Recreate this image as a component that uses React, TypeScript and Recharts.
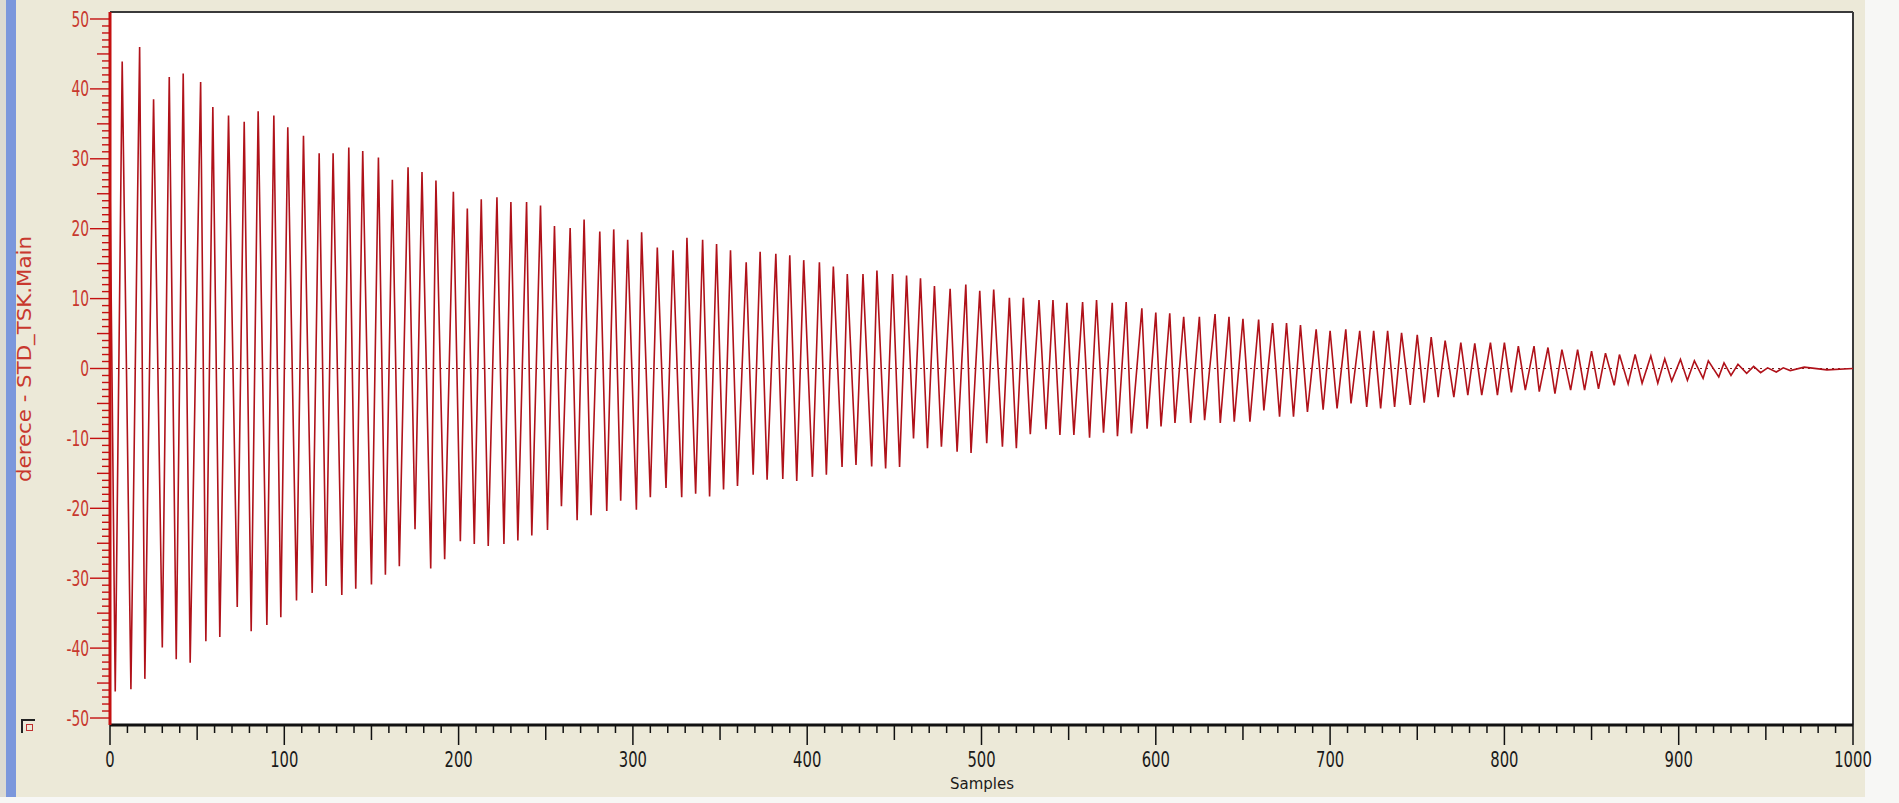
import React from 'react';
import { LineChart, Line, XAxis, YAxis, ReferenceLine, CartesianGrid } from 'recharts';

// signal extrema (sample index, degrees)
const startSample = 0;
const startValue = 27;

const peakSamples = [
  7, 17, 25, 34, 42, 52, 59, 68, 77, 85, 94, 102, 111, 120, 128, 137, 145, 154, 162, 171,
  179, 187, 197, 205, 213, 222, 230, 239, 247, 255, 264, 272, 281, 289, 297, 305, 314, 323, 331, 340,
  348, 356, 365, 373, 382, 390, 398, 407, 415, 423, 432, 440, 449, 457, 465, 473, 482, 491, 499, 507,
  516, 524, 533, 541, 549, 558, 566, 575, 583, 592, 600, 608, 616, 625, 634, 642, 650, 659, 667, 675,
  683, 692, 700, 709, 717, 725, 733, 741, 750, 758, 766, 775, 783, 792, 800, 808, 817, 825, 833, 842,
  850, 858, 866, 875, 884, 892, 901, 909, 917, 926, 934, 943, 951, 960,
];
const peakValues = [
  43.9, 46.0, 38.5, 41.7, 42.2, 41.0, 37.4, 36.2, 35.3, 36.8, 36.2, 34.5, 33.3, 30.8, 30.8, 31.6, 31.1, 30.2, 27.0, 28.8,
  28.1, 26.9, 25.3, 22.9, 24.2, 24.5, 23.8, 23.8, 23.3, 20.4, 20.1, 21.3, 19.6, 19.9, 18.4, 19.5, 17.3, 16.9, 18.7, 18.4,
  17.8, 16.9, 15.2, 16.7, 16.4, 16.2, 15.5, 15.2, 14.6, 13.5, 13.5, 14.0, 13.5, 13.3, 12.9, 11.8, 11.4, 12.0, 11.1, 11.3,
  10.1, 10.1, 9.8, 9.8, 9.4, 9.5, 9.8, 9.4, 9.5, 8.6, 8.0, 7.9, 7.4, 7.4, 7.8, 7.4, 7.1, 7.0, 6.5, 6.5,
  6.2, 5.6, 5.4, 5.6, 5.4, 5.4, 5.4, 5.1, 4.8, 4.5, 4.0, 3.7, 3.6, 3.7, 3.7, 3.2, 3.2, 3.0, 2.7, 2.7,
  2.5, 2.2, 2.0, 2.0, 1.8, 1.4, 1.3, 1.1, 1.1, 0.8, 0.6, 0.3, 0.1, 0.1,
];

const troughSamples = [
  3, 12, 20, 30, 38, 46, 55, 63, 73, 81, 90, 98, 107, 116, 124, 133, 141, 150, 158, 166,
  175, 184, 192, 201, 209, 217, 226, 234, 242, 251, 259, 268, 276, 285, 293, 302, 310, 319, 328, 336,
  344, 352, 360, 369, 377, 386, 394, 403, 411, 420, 428, 437, 445, 453, 461, 469, 477, 486, 494, 503,
  512, 520, 528, 537, 545, 553, 562, 570, 578, 586, 595, 603, 611, 620, 628, 637, 645, 654, 662, 671,
  679, 687, 696, 704, 712, 721, 729, 737, 746, 754, 762, 771, 779, 787, 796, 804, 812, 820, 829, 838,
  846, 854, 863, 871, 879, 888, 896, 905, 914, 923, 930, 939, 947, 956, 964,
];
const troughValues = [
  -46.2, -45.9, -44.4, -39.9, -41.6, -42.1, -39.0, -38.4, -34.1, -37.6, -36.7, -35.6, -33.2, -32.1, -31.1, -32.4, -31.5, -30.9, -29.5, -28.3,
  -23.0, -28.6, -27.3, -24.7, -25.1, -25.4, -25.1, -24.6, -23.9, -23.1, -19.7, -21.7, -21.0, -20.4, -18.9, -20.2, -18.4, -17.1, -18.4, -17.9,
  -18.3, -17.3, -16.8, -15.2, -15.9, -15.8, -16.1, -15.5, -15.2, -14.1, -13.8, -14.0, -14.3, -14.1, -10.0, -11.4, -11.2, -11.9, -12.1, -10.7,
  -11.2, -11.4, -9.4, -8.7, -9.5, -9.5, -9.9, -9.2, -9.7, -9.3, -8.6, -8.3, -7.8, -7.8, -7.4, -7.8, -7.6, -7.6, -6.0, -6.9,
  -6.9, -6.2, -5.9, -5.7, -5.0, -5.5, -5.7, -5.5, -5.2, -4.9, -4.1, -4.1, -3.8, -3.8, -3.8, -3.4, -3.1, -3.3, -3.6, -3.1,
  -3.1, -2.9, -2.4, -2.2, -2.1, -2.1, -1.8, -1.7, -1.4, -1.2, -1.0, -0.7, -0.6, -0.5, -0.3,
];

const tailSamples = [972, 985, 1000];
const tailValues = [0.2, -0.2, 0];

const xLabels = [0, 100, 200, 300, 400, 500, 600, 700, 800, 900, 1000];
const yLabels = [50, 40, 30, 20, 10, 0, -10, -20, -30, -40, -50];

const data = [
  { sample: startSample, value: startValue },
  ...peakSamples.map((s, i) => ({ sample: s, value: peakValues[i] })),
  ...troughSamples.map((s, i) => ({ sample: s, value: troughValues[i] })),
  ...tailSamples.map((s, i) => ({ sample: s, value: tailValues[i] })),
].sort((a, b) => a.sample - b.sample);

// minor ticks every 10 samples / every 1 degree
const xTicks: number[] = [];
for (let s = 0; s <= 1000; s += 10) xTicks.push(s);
const yTicks: number[] = [];
for (let v = -50; v <= 50; v += 1) yTicks.push(v);

const FONT = "'Liberation Sans Narrow', 'DejaVu Sans Condensed', 'DejaVu Sans', sans-serif";
const RED = '#c41010';
const LABEL_RED = '#c8382e';

const XTick = (props: any) => {
  const { x, y, payload } = props;
  const v = payload.value;
  const major = xLabels.includes(v);
  const mid = !major && v % 50 === 0;
  const len = major ? 20 : mid ? 15 : 8;
  const txt = String(v);
  return (
    <g>
      <line x1={x} y1={y} x2={x} y2={y + len} stroke="#111" strokeWidth={1.5} />
      {major && (
        <text
          x={x}
          y={y + 42}
          textAnchor="middle"
          fontSize={21}
          fill="#1a1a1a"
          fontFamily={FONT}
          textLength={txt.length * 9.4}
          lengthAdjust="spacingAndGlyphs"
        >
          {txt}
        </text>
      )}
    </g>
  );
};

const YTick = (props: any) => {
  const { x, y, payload } = props;
  const v = payload.value;
  const major = yLabels.includes(v);
  const mid = !major && v % 5 === 0;
  const len = major ? 20 : mid ? 13 : 8;
  const txt = String(v);
  const w = txt.replace('-', '').length * 8.8 + (v < 0 ? 5 : 0);
  return (
    <g>
      <line x1={x - len} y1={y} x2={x} y2={y} stroke={RED} strokeWidth={1.4} />
      {major && (
        <text
          x={x - 21}
          y={y}
          dy="0.36em"
          textAnchor="end"
          fontSize={21}
          fill={LABEL_RED}
          fontFamily={FONT}
          textLength={w}
          lengthAdjust="spacingAndGlyphs"
        >
          {txt}
        </text>
      )}
    </g>
  );
};

export default function App() {
  return (
    <div style={{ position: 'absolute', left: 0, top: 0, width: 1899, height: 803, background: '#ECE9D8', overflow: 'hidden' }}>
      <div style={{ position: 'absolute', left: 0, top: 0, width: 6, height: 803, background: '#dcdad2' }} />
      <div style={{ position: 'absolute', left: 6, top: 0, width: 10, height: 803, background: '#7b97dc' }} />
      <div style={{ position: 'absolute', left: 1865, top: 0, width: 34, height: 803, background: '#f7f7f5' }} />
      <div style={{ position: 'absolute', left: 0, top: 797, width: 1899, height: 6, background: '#f7f7f5' }} />
      <div
        style={{
          position: 'absolute', left: 21, top: 719, width: 12, height: 12,
          borderTop: '2px solid #222', borderLeft: '2px solid #222', background: '#ECE9D8',
        }}
      >
        <div style={{ position: 'absolute', left: 3, top: 3, width: 5, height: 5, border: '1px solid #c03030' }} />
      </div>

      <LineChart
        width={1899}
        height={803}
        data={data}
        margin={{ top: 12, right: 46, bottom: 0, left: 10 }}
        style={{ position: 'absolute', left: 0, top: 0 }}
      >
        <CartesianGrid fill="#ffffff" horizontal={false} vertical={false} />
        <XAxis
          dataKey="sample"
          type="number"
          domain={[0, 1000]}
          ticks={xTicks}
          interval={0}
          height={78}
          tickSize={0}
          tickMargin={0}
          tick={<XTick />}
          axisLine={{ stroke: '#111', strokeWidth: 3 }}
          tickLine={false}
        />
        <YAxis
          type="number"
          domain={[-51, 51]}
          ticks={yTicks}
          interval={0}
          width={100}
          tickSize={0}
          tickMargin={0}
          tick={<YTick />}
          axisLine={{ stroke: RED, strokeWidth: 3 }}
          tickLine={false}
        />
        <ReferenceLine y={51} stroke="#3a3a3a" strokeWidth={2} />
        <ReferenceLine x={1000} stroke="#3a3a3a" strokeWidth={2} />
        <ReferenceLine y={0} stroke="#7a2020" strokeDasharray="2 4" strokeWidth={1} />
        <Line
          type="linear"
          dataKey="value"
          stroke="#b0121a"
          strokeWidth={1.6}
          dot={false}
          isAnimationActive={false}
        />
      </LineChart>

      <svg width={1899} height={803} style={{ position: 'absolute', left: 0, top: 0, pointerEvents: 'none' }}>
        <text
          x={31}
          y={359}
          transform="rotate(-90 31 359)"
          textAnchor="middle"
          fontSize={19}
          fill={LABEL_RED}
          fontFamily={FONT}
          textLength={246}
          lengthAdjust="spacingAndGlyphs"
        >
          derece - STD_TSK.Main
        </text>
        <text
          x={982}
          y={789}
          textAnchor="middle"
          fontSize={16}
          fill="#1a1a1a"
          fontFamily={FONT}
          textLength={64}
          lengthAdjust="spacingAndGlyphs"
        >
          Samples
        </text>
      </svg>
    </div>
  );
}
